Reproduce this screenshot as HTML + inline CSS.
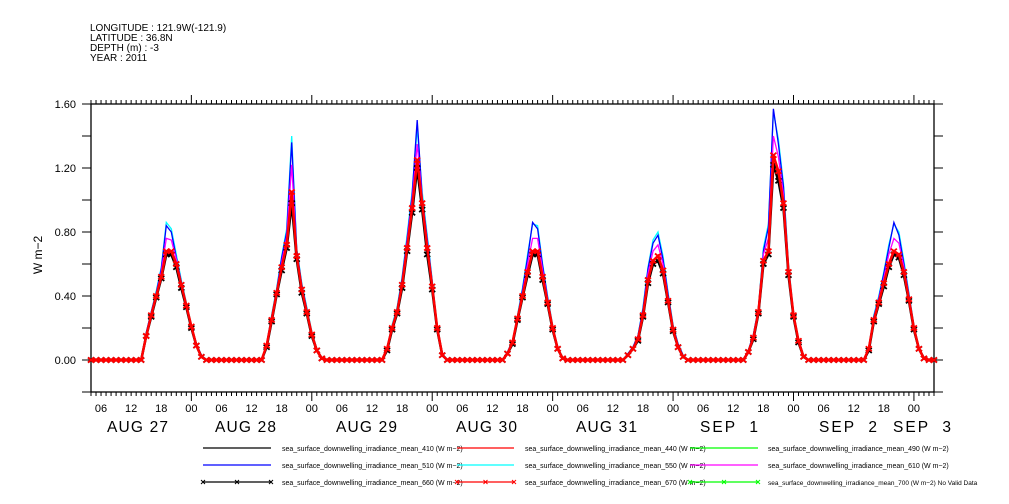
<!DOCTYPE html>
<html><head><meta charset="utf-8"><style>
html,body{margin:0;padding:0;background:#fff;}
svg{display:block;font-family:"Liberation Sans",sans-serif;}
</style></head><body>
<svg id="chart" width="1009" height="504" viewBox="0 0 1009 504" xmlns="http://www.w3.org/2000/svg">
<g font-size="10" fill="#000">
<text x="90" y="31">LONGITUDE : 121.9W(-121.9)</text>
<text x="90" y="41">LATITUDE : 36.8N</text>
<text x="90" y="51">DEPTH (m) : -3</text>
<text x="90" y="61">YEAR : 2011</text>
</g>
<text font-size="12" transform="translate(42,255) rotate(-90)" text-anchor="middle">W m−2</text>
<g id="axes"></g>
<g id="series"></g>
<g id="legend"></g>
</svg>
<script>
// hours of each daily profile: 14:00 .. 03:00 next day
const profileHours = [14,15,16,17,18,19,20,21,22,23,24,25,26,27];
const dayLabels = ["AUG 27","AUG 28","AUG 29","AUG 30","AUG 31","SEP  1","SEP  2","SEP  3"];
const yTickLabels = ["0.00","0.40","0.80","1.20","1.60"];
const yTickValues = [0,0.4,0.8,1.2,1.6];
const hourLabels = ["06","12","18","00"];
// 7 days x 14 values each
const s550 = [0,0.17,0.30,0.43,0.58,0.86,0.82,0.66,0.50,0.36,0.22,0.10,0.03,0,
  0,0.10,0.28,0.45,0.65,0.82,1.40,0.70,0.48,0.33,0.18,0.07,0.01,0,
  0,0.08,0.22,0.33,0.52,0.78,1.05,1.45,1.05,0.78,0.50,0.22,0.04,0,
  0,0.05,0.12,0.28,0.45,0.66,0.85,0.84,0.60,0.40,0.22,0.08,0.01,0,
  0,0.04,0.08,0.15,0.33,0.58,0.75,0.80,0.65,0.42,0.22,0.10,0.03,0,
  0,0.06,0.16,0.33,0.70,0.85,1.55,1.38,1.10,0.60,0.30,0.13,0.03,0,
  0,0.08,0.28,0.40,0.55,0.72,0.85,0.80,0.62,0.42,0.22,0.08,0.01,0];
const s510 = [0,0.17,0.30,0.42,0.57,0.84,0.80,0.64,0.49,0.35,0.21,0.10,0.03,0,
  0,0.10,0.27,0.44,0.64,0.80,1.36,0.69,0.47,0.32,0.17,0.07,0.01,0,
  0,0.08,0.21,0.32,0.51,0.76,1.03,1.50,1.02,0.76,0.49,0.21,0.04,0,
  0,0.05,0.12,0.27,0.44,0.64,0.86,0.82,0.59,0.39,0.21,0.08,0.01,0,
  0,0.04,0.08,0.15,0.32,0.57,0.73,0.78,0.63,0.41,0.21,0.10,0.03,0,
  0,0.06,0.16,0.32,0.68,0.83,1.57,1.35,1.08,0.58,0.29,0.13,0.03,0,
  0,0.08,0.27,0.39,0.54,0.70,0.86,0.78,0.60,0.41,0.21,0.08,0.01,0];
const s610 = [0,0.16,0.29,0.41,0.55,0.76,0.75,0.63,0.48,0.35,0.21,0.09,0.02,0,
  0,0.09,0.26,0.43,0.61,0.77,1.22,0.67,0.46,0.31,0.17,0.06,0.01,0,
  0,0.07,0.21,0.31,0.49,0.74,1.00,1.35,1.01,0.74,0.48,0.21,0.03,0,
  0,0.04,0.11,0.27,0.42,0.60,0.76,0.76,0.56,0.38,0.21,0.07,0.01,0,
  0,0.03,0.07,0.14,0.30,0.54,0.68,0.72,0.60,0.39,0.20,0.09,0.02,0,
  0,0.05,0.15,0.31,0.66,0.76,1.40,1.27,1.03,0.57,0.29,0.12,0.02,0,
  0,0.07,0.26,0.38,0.51,0.66,0.76,0.73,0.58,0.40,0.21,0.07,0.01,0];
const s660 = [0,0.15,0.27,0.39,0.51,0.66,0.66,0.58,0.45,0.33,0.20,0.09,0.02,0,
  0,0.08,0.24,0.41,0.56,0.70,0.98,0.63,0.42,0.29,0.15,0.06,0.01,0,
  0,0.06,0.19,0.29,0.45,0.68,0.92,1.20,0.94,0.66,0.44,0.19,0.03,0,
  0,0.04,0.10,0.25,0.39,0.53,0.66,0.66,0.50,0.35,0.19,0.07,0.01,0,
  0,0.03,0.07,0.12,0.27,0.48,0.60,0.62,0.54,0.36,0.18,0.08,0.02,0,
  0,0.05,0.13,0.29,0.60,0.66,1.22,1.12,0.95,0.53,0.27,0.11,0.02,0,
  0,0.06,0.24,0.35,0.46,0.58,0.66,0.64,0.53,0.37,0.19,0.07,0.01,0];
const s670 = [0,0.15,0.28,0.40,0.52,0.68,0.68,0.60,0.47,0.34,0.21,0.09,0.02,0,
  0,0.09,0.25,0.42,0.58,0.72,1.05,0.65,0.44,0.30,0.16,0.06,0.01,0,
  0,0.07,0.20,0.30,0.47,0.70,0.95,1.25,0.98,0.70,0.46,0.20,0.03,0,
  0,0.04,0.11,0.26,0.40,0.55,0.68,0.68,0.52,0.36,0.20,0.07,0.01,0,
  0,0.03,0.07,0.13,0.28,0.50,0.62,0.65,0.56,0.37,0.19,0.08,0.02,0,
  0,0.05,0.14,0.30,0.62,0.68,1.28,1.18,0.98,0.55,0.28,0.12,0.02,0,
  0,0.07,0.25,0.36,0.48,0.60,0.68,0.66,0.55,0.38,0.20,0.07,0.01,0];

const NS="http://www.w3.org/2000/svg";
const X0=91, X1=934, Y_TOP=104, Y_BOT=392, YMIN=-0.2, YMAX=1.6, HOURS=168;
// hour 0 = Aug 27 04:00
function xScale(h){return X0+(h/HOURS)*(X1-X0);}
function yScale(v){return Y_BOT-(v-YMIN)/(YMAX-YMIN)*(Y_BOT-Y_TOP);}
function mk(tag,parent){const e=document.createElementNS(NS,tag);parent.appendChild(e);return e;}
function line(p,x1,y1,x2,y2,c,w){const l=mk('line',p);l.setAttribute('x1',x1);l.setAttribute('y1',y1);l.setAttribute('x2',x2);l.setAttribute('y2',y2);l.setAttribute('stroke',c||'#000');l.setAttribute('stroke-width',w||1);return l;}

const axes=document.getElementById('axes');
const frame=mk('rect',axes);


frame.setAttribute('x',X0);frame.setAttribute('y',Y_TOP);frame.setAttribute('width',X1-X0);frame.setAttribute('height',Y_BOT-Y_TOP);
frame.setAttribute('fill','none');frame.setAttribute('stroke','#000');frame.setAttribute('stroke-width','1.3');
for(let v=-0.2;v<=1.601;v+=0.2){
  const y=yScale(v);
  const t1=line(axes,X0-9,y,X0,y);
  
  
  const t2=line(axes,X1,y,X1+9,y);
  
  
}
yTickValues.forEach((v,i)=>{
  const t=mk('text',axes);
  
  
  t.setAttribute('x',76);t.setAttribute('y',yScale(v)+4);t.setAttribute('text-anchor','end');t.setAttribute('font-size','11');
  t.textContent=yTickLabels[i];
});
for(let h=0;h<=HOURS;h++){
  const x=xScale(h);
  const major=((h+4)%24===0);
  const L=major?9:4;
  const a=line(axes,x,Y_BOT,x,Y_BOT+L);
  
  
  const b=line(axes,x,Y_TOP-L,x,Y_TOP);
  
  
  if((h+4)%6===0){
    const t=mk('text',axes);
    
    
    t.setAttribute('x',x);t.setAttribute('y',412);t.setAttribute('text-anchor','middle');t.setAttribute('font-size','11');
    t.textContent=hourLabels[((h+4)%24)/6===0?3:((h+4)%24)/6-1];
  }
}
const dayLabelX=[107,215,336,456,576,700,819,893];
dayLabels.forEach((d,i)=>{
  const t=mk('text',axes);
  
  
  t.setAttribute('x',dayLabelX[i]);t.setAttribute('y',432);t.setAttribute('font-size','15.5');
  t.setAttribute('textLength',i>=5?58:61);t.setAttribute('lengthAdjust','spacing');
  t.setAttribute('xml:space','preserve');t.style.whiteSpace='pre';
  t.textContent=d;
});

function timeline(arr){
  const vals=new Array(HOURS+1).fill(0);
  for(let d=0;d<7;d++){
    profileHours.forEach((ph,i)=>{
      const h=d*24+ph-4;
      if(h>=0&&h<=HOURS) vals[h]=arr[d*14+i];
    });
  }
  return vals;
}
const seriesG=document.getElementById('series');
function drawSeries(arr,color,name,markers){
  const vals=timeline(arr);
  const p=mk('polyline',seriesG);
  
  
  p.setAttribute('points',vals.map((v,h)=>xScale(h).toFixed(1)+','+yScale(v).toFixed(1)).join(' '));
  p.setAttribute('fill','none');p.setAttribute('stroke',color);p.setAttribute('stroke-width',markers?2.5:1.3);
  if(markers){
    vals.forEach((v,h)=>{
      const x=xScale(h),y=yScale(v);
      const m=mk('path',seriesG);
      
      
      m.setAttribute('d',`M${x-3},${y-2.5}L${x+3},${y+2.5}M${x-3},${y+2.5}L${x+3},${y-2.5}`);
      m.setAttribute('stroke',color);m.setAttribute('stroke-width',1.8);
    });
  }
}
drawSeries(s550,'#00ffff','series-550',false);
drawSeries(s510,'#0000ff','series-510',false);
drawSeries(s610,'#ff00ff','series-610',false);
drawSeries(s660,'#000000','series-660',true);
drawSeries(s670,'#ff0000','series-670',true);

const lg=document.getElementById('legend');
const entries=[
 ['#000',false,'sea_surface_downwelling_irradiance_mean_410 (W m−2)',0,0],
 ['#f00',false,'sea_surface_downwelling_irradiance_mean_440 (W m−2)',1,0],
 ['#0f0',false,'sea_surface_downwelling_irradiance_mean_490 (W m−2)',2,0],
 ['#00f',false,'sea_surface_downwelling_irradiance_mean_510 (W m−2)',0,1],
 ['#0ff',false,'sea_surface_downwelling_irradiance_mean_550 (W m−2)',1,1],
 ['#f0f',false,'sea_surface_downwelling_irradiance_mean_610 (W m−2)',2,1],
 ['#000',true,'sea_surface_downwelling_irradiance_mean_660 (W m−2)',0,2],
 ['#f00',true,'sea_surface_downwelling_irradiance_mean_670 (W m−2)',1,2],
 ['#0f0',true,'sea_surface_downwelling_irradiance_mean_700 (W m−2) No Valid Data',2,2]];
const colLine=[[203,271],[457,514],[690,758]], colText=[282,525,768], rowY=[448,465,482];
entries.forEach(e=>{
  const [c,mkr,label,col,row]=e;
  const g=mk('g',lg);
  
  
  const y=rowY[row];
  line(g,colLine[col][0],y,colLine[col][1],y,c,1.3);
  if(mkr){
    [colLine[col][0],(colLine[col][0]+colLine[col][1])/2,colLine[col][1]].forEach(x=>{
      const m=mk('path',g);
      m.setAttribute('d',`M${x-2},${y-2}L${x+2},${y+2}M${x-2},${y+2}L${x+2},${y-2}`);
      m.setAttribute('stroke',c);
    });
  }
  const t=mk('text',g);
  t.setAttribute('x',colText[col]);t.setAttribute('y',y+3);t.setAttribute('font-size',row===2&&col===2?'6.5':'7');
  t.textContent=label;
});
</script>
</body></html>
